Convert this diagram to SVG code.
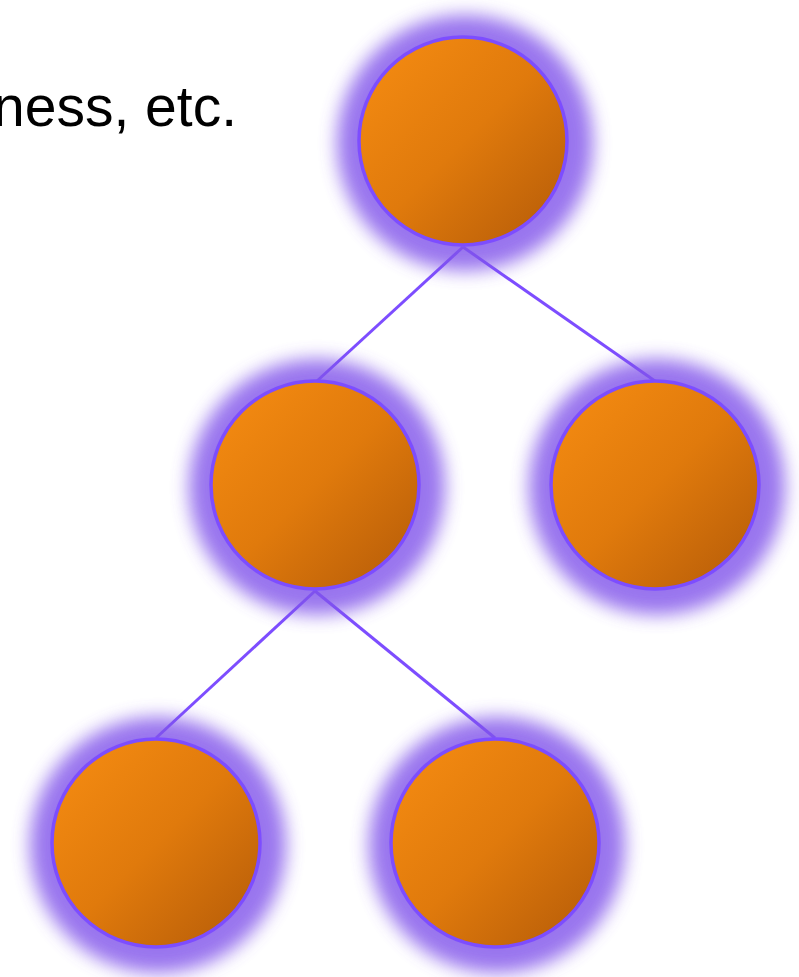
<svg xmlns="http://www.w3.org/2000/svg" width="799" height="977" viewBox="0 0 799 977">
  <defs>
    <linearGradient id="orange" x1="0" y1="0" x2="1" y2="1">
      <stop offset="0" stop-color="#f78d12"/>
      <stop offset="0.5" stop-color="#e07a0c"/>
      <stop offset="1" stop-color="#b35a08"/>
    </linearGradient>
    <filter id="glow" x="-50%" y="-50%" width="200%" height="200%">
      <feGaussianBlur stdDeviation="9"/>
    </filter>
  </defs>
  <style>
    .halo { fill: #8052ea; opacity: 0.8; filter: url(#glow); }
    .ball { fill: url(#orange); stroke: #7d4dff; stroke-width: 3.5; }
    .edge { stroke: #7d4dff; stroke-width: 3; fill: none; }
    .caption { font-family: "Liberation Sans", Arial, sans-serif; font-size: 57px; fill: #000; }
  </style>

  <rect width="799" height="977" fill="#ffffff"/>

  <text class="caption" x="237" y="126" text-anchor="end">ness, etc.</text>

  <g id="connectors">
    <line class="edge" x1="463" y1="247" x2="317" y2="381"/>
    <line class="edge" x1="463" y1="247" x2="655" y2="381"/>
    <line class="edge" x1="315" y1="591" x2="156" y2="738"/>
    <line class="edge" x1="315" y1="591" x2="495" y2="738"/>
  </g>

  <g id="node-root">
    <circle class="halo" cx="465" cy="143" r="128"/>
    <circle class="ball" cx="463" cy="141" r="104"/>
  </g>
  <g id="node-left">
    <circle class="halo" cx="317" cy="487" r="128"/>
    <circle class="ball" cx="315" cy="485" r="104"/>
  </g>
  <g id="node-right">
    <circle class="halo" cx="657" cy="487" r="128"/>
    <circle class="ball" cx="655" cy="485" r="104"/>
  </g>
  <g id="node-left-left">
    <circle class="halo" cx="158" cy="845" r="128"/>
    <circle class="ball" cx="156" cy="843" r="104"/>
  </g>
  <g id="node-left-right">
    <circle class="halo" cx="497" cy="845" r="128"/>
    <circle class="ball" cx="495" cy="843" r="104"/>
  </g>
</svg>
